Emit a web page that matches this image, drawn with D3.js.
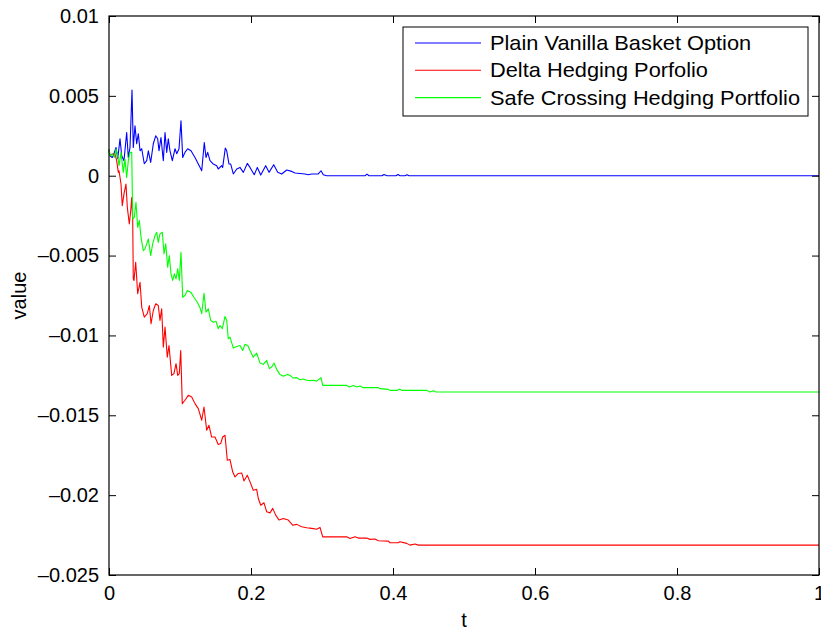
<!DOCTYPE html>
<html>
<head>
<meta charset="utf-8">
<script src="https://cdn.jsdelivr.net/npm/d3@7"></script>
<style>
  body { margin: 0; background: #fff; }
  svg text { font-family: "Liberation Sans", Arial, sans-serif; }
</style>
</head>
<body>
<div id="chart"></div>
<script>
// series: [t, value]
const vanilla = [
  [0, 0.00156], [0.0014, 0.00125], [0.0046, 0.00114], [0.0061, 0.00125], [0.0099, 0.00177],
  [0.0123, 0.00106], [0.0155, 0.00231], [0.0179, 0.00125], [0.0211, 0.00094], [0.0249, 0.00271],
  [0.0272, 0.00114], [0.0296, 0.00177], [0.0324, 0.00536], [0.0342, 0.00177], [0.0366, 0.00313],
  [0.0390, 0.002], [0.0413, 0.00263], [0.0437, 0.00156], [0.0461, 0.00169], [0.0497, 0.00075],
  [0.0531, 0.00094], [0.0554, 0.00156], [0.0587, 0.00083], [0.0624, 0.002], [0.0658, 0.0025],
  [0.0686, 0.00231], [0.0704, 0.00156], [0.0732, 0.00239], [0.0765, 0.00094], [0.0789, 0.00271],
  [0.0813, 0.00146], [0.0835, 0.00231], [0.0859, 0.00156], [0.0892, 0.00094], [0.0930, 0.00169],
  [0.0954, 0.00138], [0.0986, 0.00169], [0.1014, 0.00344], [0.1038, 0.00114], [0.1070, 0.00146],
  [0.1108, 0.00169], [0.1155, 0.00156], [0.1211, 0.00114], [0.1258, 0.00073], [0.1306, 0.00031],
  [0.1342, 0.00208], [0.1366, 0.00114], [0.1390, 0.00146], [0.1423, 0.00094], [0.1469, 0.00073],
  [0.1517, 0.00063], [0.1539, 0.00042], [0.1587, 0.00063], [0.1601, 0.00052], [0.1638, 0.00173],
  [0.1658, 0.00156], [0.1690, 0.00073], [0.1714, 0.00073], [0.1751, 0.00011], [0.1799, 0.00042],
  [0.1845, 0.00052], [0.1892, 0.00021], [0.1948, 0.00077], [0.1986, 0.00052], [0.2046, 0.00006],
  [0.2089, 0.00052], [0.2137, 0.00004], [0.2207, 0.00063], [0.2254, 0.00021], [0.2320, 0.00069],
  [0.2376, 0.00021], [0.2432, 0.00011], [0.2503, 0.00036], [0.2573, 0.00027], [0.2620, 0.00017],
  [0.2690, 0.00014], [0.2761, 0.00011], [0.2807, 0.00006], [0.2855, 0.00011], [0.2948, 0.00011],
  [0.2986, 0.00031], [0.3018, 0.00006], [0.3066, 0], [0.3606, 0], [0.3634, 0.0001], [0.3662, 0],
  [0.3845, 0], [0.3873, 0.00008], [0.3915, 0], [0.4042, 0], [0.4070, 0.00008], [0.4099, 0],
  [0.4169, 0], [0.4197, 0.00006], [0.4225, 0], [1, 0]
];

const delta = [
  [0, 0.00167], [0.0014, 0.00125], [0.0046, 0.00136], [0.0085, 0.00136], [0.0108, 0.00094],
  [0.0131, 0.00021], [0.0141, 0.00031], [0.0169, -0.00052], [0.0187, -0.00188], [0.0211, -0.00114],
  [0.0239, -0.00052], [0.0258, -0.00198], [0.0286, -0.00302], [0.0306, -0.00219], [0.0320, -0.00136],
  [0.0334, -0.00281], [0.0342, -0.00646], [0.0352, -0.00656], [0.0376, -0.00542], [0.0404, -0.00739],
  [0.0437, -0.00667], [0.0461, -0.00823], [0.0497, -0.00886], [0.0539, -0.00864], [0.0568, -0.00813],
  [0.0592, -0.00927], [0.0624, -0.00844], [0.0658, -0.00802], [0.0694, -0.00813], [0.0718, -0.00906],
  [0.0742, -0.00833], [0.0765, -0.01073], [0.0789, -0.00948], [0.0821, -0.01136], [0.0845, -0.01063],
  [0.0883, -0.0125], [0.0915, -0.01239], [0.0944, -0.01177], [0.0968, -0.0125], [0.0990, -0.01239],
  [0.1010, -0.01094], [0.1032, -0.01427], [0.1070, -0.01406], [0.1117, -0.01375], [0.1165, -0.01386],
  [0.1211, -0.01427], [0.1258, -0.01458], [0.1306, -0.01531], [0.1338, -0.01448], [0.1376, -0.01594],
  [0.1408, -0.01563], [0.1446, -0.01636], [0.1493, -0.01636], [0.1539, -0.01683], [0.1573, -0.01677],
  [0.1601, -0.01636], [0.1634, -0.01625], [0.1666, -0.01781], [0.1704, -0.01777], [0.1742, -0.01854],
  [0.1775, -0.01886], [0.1821, -0.01864], [0.1869, -0.01861], [0.1901, -0.01911], [0.1948, -0.01875],
  [0.1986, -0.01917], [0.2032, -0.01969], [0.2080, -0.01964], [0.2103, -0.02021], [0.2137, -0.02063],
  [0.2183, -0.02048], [0.2221, -0.02104], [0.2268, -0.02111], [0.2306, -0.02083], [0.2348, -0.02125],
  [0.2394, -0.02156], [0.2455, -0.02146], [0.2525, -0.02156], [0.2587, -0.02188], [0.2644, -0.02183],
  [0.2714, -0.02198], [0.2785, -0.02204], [0.2855, -0.02208], [0.2925, -0.02214], [0.2972, -0.02202],
  [0.3010, -0.02261], [0.3348, -0.02261], [0.3394, -0.02271], [0.3465, -0.02261], [0.3511, -0.02269],
  [0.3630, -0.02269], [0.3676, -0.02277], [0.3746, -0.02275], [0.3793, -0.02286], [0.3934, -0.02288],
  [0.3958, -0.02298], [0.4075, -0.02298], [0.4099, -0.02292], [0.4193, -0.02302], [0.4239, -0.02313],
  [0.4310, -0.02306], [0.4356, -0.02313], [1, -0.02313]
];

const safeCrossing = [
  [0, 0.00167], [0.0014, 0.00125], [0.0046, 0.00136], [0.0075, 0.00114], [0.0099, 0.00167],
  [0.0123, 0.00125], [0.0141, 0.00063], [0.0169, 0.00146], [0.0201, 0.00021], [0.0225, 0.00104],
  [0.0249, -0.00011], [0.0272, 0.00094], [0.0296, 0.00146], [0.0320, 0.00146], [0.0334, -0.00271],
  [0.0356, -0.00261], [0.0380, -0.00167], [0.0404, -0.00323], [0.0427, -0.00281], [0.0451, -0.00386],
  [0.0483, -0.00469], [0.0507, -0.00458], [0.0531, -0.00427], [0.0554, -0.00396], [0.0587, -0.005],
  [0.0615, -0.00427], [0.0648, -0.00375], [0.0672, -0.00354], [0.0694, -0.00417], [0.0718, -0.00364],
  [0.0751, -0.00354], [0.0775, -0.00489], [0.0799, -0.00427], [0.0827, -0.00573], [0.0849, -0.005],
  [0.0873, -0.00614], [0.0897, -0.00656], [0.0920, -0.00614], [0.0944, -0.00646], [0.0968, -0.00583],
  [0.0990, -0.00656], [0.1014, -0.00479], [0.1038, -0.00761], [0.1070, -0.0075], [0.1103, -0.00719],
  [0.1151, -0.00729], [0.1197, -0.00761], [0.1244, -0.00792], [0.1282, -0.00827], [0.1306, -0.00864],
  [0.1338, -0.00736], [0.1366, -0.00854], [0.1399, -0.00833], [0.1432, -0.00906], [0.1469, -0.00917],
  [0.1507, -0.00911], [0.1539, -0.00958], [0.1563, -0.00938], [0.1596, -0.00958], [0.1634, -0.00881],
  [0.1658, -0.00906], [0.1680, -0.01021], [0.1704, -0.01011], [0.1751, -0.01079], [0.1799, -0.01069],
  [0.1845, -0.01063], [0.1883, -0.01094], [0.1915, -0.01056], [0.1954, -0.01063], [0.1986, -0.01094],
  [0.2032, -0.01136], [0.2080, -0.01111], [0.2127, -0.01173], [0.2173, -0.01181], [0.2221, -0.01156],
  [0.2258, -0.01208], [0.2292, -0.01198], [0.2324, -0.01173], [0.2370, -0.01219], [0.2408, -0.01244],
  [0.2455, -0.01256], [0.2511, -0.01244], [0.2549, -0.0125], [0.2596, -0.01267], [0.2644, -0.01264],
  [0.2690, -0.01277], [0.2737, -0.01273], [0.2785, -0.01281], [0.2831, -0.01283], [0.2877, -0.01281],
  [0.2925, -0.01286], [0.2986, -0.01264], [0.3010, -0.01313], [0.3348, -0.01313], [0.3385, -0.01323],
  [0.3441, -0.01313], [0.3497, -0.01323], [0.3535, -0.01317], [0.3582, -0.01327], [0.3793, -0.01327],
  [0.3817, -0.01333], [0.3934, -0.01338], [0.3958, -0.01344], [0.4061, -0.01344], [0.4099, -0.01336],
  [0.4123, -0.01344], [0.4475, -0.01344], [0.4521, -0.01354], [0.4568, -0.01346], [0.4606, -0.01354],
  [1, -0.01354]
];

const seriesNames = ["Plain Vanilla Basket Option", "Delta Hedging Porfolio", "Safe Crossing Hedging Portfolio"];
const seriesColors = ["#0000ff", "#ff0000", "#00ff00"];
const xTicks = [0, 0.2, 0.4, 0.6, 0.8, 1];
const yTicks = [0.01, 0.005, 0, -0.005, -0.01, -0.015, -0.02, -0.025];

const W = 821, H = 632;
const margin = {top: 16, right: 2, bottom: 57, left: 109};
const width = W - margin.left - margin.right,
      height = H - margin.top - margin.bottom;

const svg = d3.select("#chart").append("svg")
    .attr("width", W).attr("height", H);
const g = svg.append("g")
    .attr("transform", "translate(" + margin.left + "," + margin.top + ")");

const x = d3.scaleLinear().domain([0, 1]).range([0, width]);
const y = d3.scaleLinear().domain([-0.025, 0.01]).range([height, 0]);

// matlab style labels: no trailing zeros, long minus
const fmt = d => (d < 0 ? "\u2013" : "") + String(+Math.abs(d).toFixed(4));

const line = d3.line().x(d => x(d[0])).y(d => y(d[1]));

[vanilla, delta, safeCrossing].forEach((s, i) => {
  g.append("path")
      .datum(s)
      .attr("fill", "none")
      .attr("stroke", seriesColors[i])
      .attr("stroke-width", 1.1)
      .attr("stroke-linejoin", "round")
      .attr("d", line);
});

// axes with inward ticks on all four sides
const styleAxis = sel => {
  sel.select(".domain").remove();
  sel.selectAll("line").attr("stroke", "#000");
  sel.selectAll("text").attr("fill", "#000").style("font-size", "20px");
};

g.append("g").attr("transform", "translate(0," + height + ")")
    .call(d3.axisBottom(x).tickValues(xTicks).tickFormat(fmt).tickSizeInner(-7).tickSizeOuter(0).tickPadding(11))
    .call(styleAxis);
g.append("g")
    .call(d3.axisTop(x).tickValues(xTicks).tickFormat("").tickSizeInner(-7).tickSizeOuter(0))
    .call(styleAxis);
g.append("g")
    .call(d3.axisLeft(y).tickValues(yTicks).tickFormat(fmt).tickSizeInner(-7).tickSizeOuter(0).tickPadding(10))
    .call(styleAxis);
g.append("g").attr("transform", "translate(" + width + ",0)")
    .call(d3.axisRight(y).tickValues(yTicks).tickFormat("").tickSizeInner(-7).tickSizeOuter(0))
    .call(styleAxis);

g.append("rect")
    .attr("width", width).attr("height", height)
    .attr("fill", "none").attr("stroke", "#000").attr("stroke-width", 1.2);

// axis titles
g.append("text")
    .attr("x", width / 2).attr("y", height + 52)
    .attr("text-anchor", "middle").style("font-size", "20px")
    .text("t");
g.append("text")
    .attr("transform", "translate(" + (-83) + "," + (height / 2) + ") rotate(-90)")
    .attr("text-anchor", "middle").style("font-size", "20px")
    .text("value");

// legend
const legend = g.append("g").attr("transform", "translate(294,11)");
legend.append("rect")
    .attr("width", 405).attr("height", 89)
    .attr("fill", "#fff").attr("stroke", "#000").attr("stroke-width", 1);
seriesNames.forEach((name, i) => {
  const row = 16 + i * 27.3;
  legend.append("line")
      .attr("x1", 12).attr("x2", 78).attr("y1", row).attr("y2", row)
      .attr("stroke", seriesColors[i]).attr("stroke-width", 1.1);
  legend.append("text")
      .attr("transform", "translate(87," + (row + 7) + ") scale(1.09,1)")
      .style("font-size", "20px")
      .text(name);
});
</script>
</body>
</html>
